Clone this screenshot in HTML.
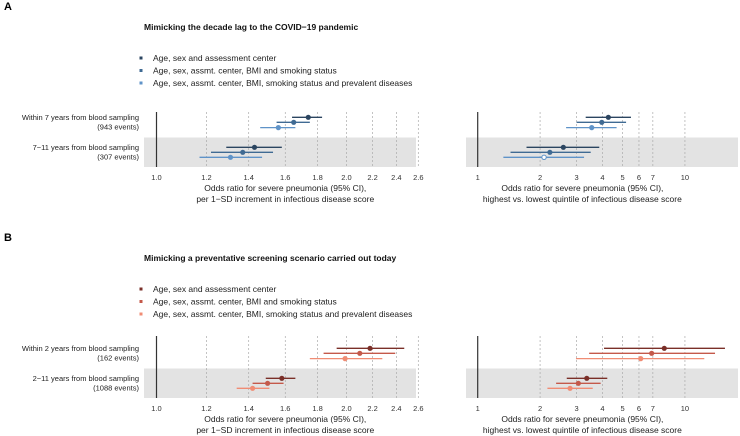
<!DOCTYPE html>
<html><head><meta charset="utf-8"><style>
body{margin:0;background:#fff}
svg{display:block;font-family:"Liberation Sans",sans-serif}
</style></head><body>
<svg id="c" width="740" height="436" xmlns="http://www.w3.org/2000/svg"></svg>
<script>
const rowLabels = [["Within 7 years from blood sampling","(943 events)"],["7\u221211 years from blood sampling","(307 events)"]];
const rowLabelsB = [["Within 2 years from blood sampling","(162 events)"],["2\u221211 years from blood sampling","(1088 events)"]];
const legendLabels = ["Age, sex and assessment center","Age, sex, assmt. center, BMI and smoking status","Age, sex, assmt. center, BMI, smoking status and prevalent diseases"];
const leftTicks = [1.0,1.2,1.4,1.6,1.8,2.0,2.2,2.4,2.6];
const rightTicks = [1,2,3,4,5,6,7,10];
// [estimate, lo, hi] per row per model
const aLeftEst = [[1.74,1.64,1.83],[1.65,1.55,1.75],[1.56,1.46,1.66],[1.43,1.29,1.58],[1.37,1.22,1.53],[1.31,1.17,1.47]];
const aRightEst = [[4.27,3.32,5.49],[3.97,3.0,5.2],[3.55,2.67,4.68],[2.59,1.72,3.86],[2.23,1.44,3.51],[2.09,1.33,3.26]];
const bLeftEst = [[2.18,1.93,2.47],[2.10,1.84,2.39],[1.99,1.75,2.28],[1.58,1.49,1.66],[1.50,1.42,1.59],[1.42,1.34,1.51]];
const bRightEst = [[7.95,4.07,15.6],[6.91,3.45,13.97],[6.12,2.98,12.4],[3.36,2.69,4.22],[3.06,2.39,3.92],[2.79,2.17,3.59]];
const blues = ["#2b4560","#3f6a93","#5f93c8"];
const reds = ["#7a2f28","#c4594a","#f08c74"];

const svg = document.getElementById('c');
const NS = "http://www.w3.org/2000/svg";
function mk(tag, attrs, parent){const e=document.createElementNS(NS,tag);for(const k in attrs)e.setAttribute(k,attrs[k]);(parent||svg).appendChild(e);return e;}
function txt(s,x,y,opts,parent){const t=mk('text',Object.assign({x:x,y:y,'font-size':8.5,fill:'#222'},opts||{}),parent);t.textContent=s;return t;}

const xL = v => 156.5 + Math.log(v)*274;
const xR = v => 477.7 + Math.log(v)*90;

function panel(oy, title, letter, labels, colors, leftData, rightData, pfx, topOff, hollow){
  const g = mk('g',{});
  
  
  const L = txt(letter, 4, oy+10, {'font-size':11,'font-weight':'bold',fill:'#000'}, g);
   
  const T = txt(title, 144, oy+30, {'font-size':8.5,'font-weight':'bold',fill:'#111'}, g);
   
  legendLabels.forEach((s,i)=>{
    const r = mk('rect',{x:139.5,y:oy+56.5+i*12.5,width:3,height:3,fill:colors[i]},g);
     
    const t = txt(s,153,oy+61+i*12.5,{'font-size':8.5},g);
     
  });
  const top = oy+topOff, bandTop = oy+137.5, bot = oy+167;
  const rowY = [oy+117.3, oy+122.3, oy+127.6, oy+147.3, oy+152.3, oy+157.3];
  const b1 = mk('rect',{x:144,y:bandTop,width:272,height:bot-bandTop,fill:'#e3e3e3'},g);
   
  const b2 = mk('rect',{x:466,y:bandTop,width:272,height:bot-bandTop,fill:'#e3e3e3'},g);
   
  labels.forEach((l,i)=>{
    const yb = oy+120 + i*30;
    const t1 = txt(l[0],139,yb,{'text-anchor':'end','font-size':7.5},g);
     
    const t2 = txt(l[1],139,yb+9.5,{'text-anchor':'end','font-size':7.5},g);
     
  });
  leftTicks.forEach((v,i)=>{
    if(i>0){const l=mk('line',{x1:xL(v),x2:xL(v),y1:top,y2:bot,stroke:'#aaa','stroke-width':0.7,'stroke-dasharray':'2,2'},g);
       }
    const t = txt(v.toFixed(1),xL(v),oy+180,{'text-anchor':'middle','font-size':7.5,fill:'#333'},g);
     
  });
  rightTicks.forEach((v,i)=>{
    if(i>0){const l=mk('line',{x1:xR(v),x2:xR(v),y1:top,y2:bot,stroke:'#aaa','stroke-width':0.7,'stroke-dasharray':'2,2'},g);
       }
    const t = txt(String(v),xR(v),oy+180,{'text-anchor':'middle','font-size':7.5,fill:'#333'},g);
     
  });
  const a1 = mk('line',{x1:xL(1),x2:xL(1),y1:top,y2:bot,stroke:'#333','stroke-width':1.2},g);
   
  const a2 = mk('line',{x1:xR(1),x2:xR(1),y1:top,y2:bot,stroke:'#333','stroke-width':1.2},g);
   
  const at = [["Odds ratio for severe pneumonia (95% CI),","per 1\u2212SD increment in infectious disease score",xL(1.6)],
              ["Odds ratio for severe pneumonia (95% CI),","highest vs. lowest quintile of infectious disease score",xR(3.2)]];
  at.forEach((a,i)=>{
    const t1=txt(a[0],a[2],oy+191,{'text-anchor':'middle','font-size':8.5},g);
     
    const t2=txt(a[1],a[2],oy+202,{'text-anchor':'middle','font-size':8.5},g);
     
  });
  [[leftData,xL],[rightData,xR]].forEach((pair,side)=>{
    pair[0].forEach((d,i)=>{
      const c = colors[i%3], y = rowY[i];
      const l = mk('line',{x1:pair[1](d[1]),x2:pair[1](d[2]),y1:y,y2:y,stroke:c,'stroke-width':1.3},g);
      
      
      const isHollow = hollow && side===1 && i===5;
      const p = mk('circle',{cx:pair[1](d[0]),cy:y,r:isHollow?2.2:2.6,fill:isHollow?'#fff':c,stroke:c,'stroke-width':isHollow?1:0},g);
      
      
    });
  });
}
panel(0,"Mimicking the decade lag to the COVID\u221219 pandemic","A",rowLabels,blues,aLeftEst,aRightEst,'a',112,true);
panel(231,"Mimicking a preventative screening scenario carried out today","B",rowLabelsB,reds,bLeftEst,bRightEst,'b',105,false);
</script>
</body></html>
